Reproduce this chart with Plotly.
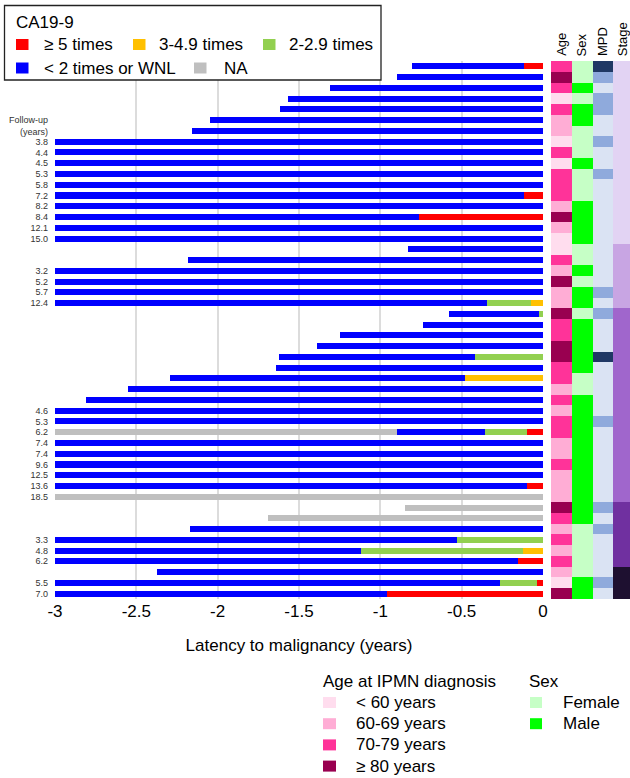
import plotly.graph_objects as go

FONT = "Arial, Liberation Sans, sans-serif"

# ---- CA19-9 course per patient: (latency where level starts, level) ----
# each level lasts until the next entry, the last one until malignancy (0)
course = [
    [(-0.805, "LOW"), (-0.115, "HI5")],
    [(-0.897, "LOW")],
    [(-1.31, "LOW")],
    [(-1.567, "LOW")],
    [(-1.616, "LOW")],
    [(-2.047, "LOW")],
    [(-2.157, "LOW")],
    [(-3.0, "LOW")],
    [(-3.0, "LOW")],
    [(-3.0, "LOW")],
    [(-3.0, "LOW")],
    [(-3.0, "LOW")],
    [(-3.0, "LOW"), (-0.117, "HI5")],
    [(-3.0, "LOW")],
    [(-3.0, "LOW"), (-0.76, "HI5")],
    [(-3.0, "LOW")],
    [(-3.0, "LOW")],
    [(-0.83, "LOW")],
    [(-2.18, "LOW")],
    [(-3.0, "LOW")],
    [(-3.0, "LOW")],
    [(-3.0, "LOW")],
    [(-3.0, "LOW"), (-0.344, "HI2"), (-0.076, "HI3")],
    [(-0.576, "LOW"), (-0.023, "HI2")],
    [(-0.74, "LOW")],
    [(-1.25, "LOW")],
    [(-1.39, "LOW")],
    [(-1.62, "LOW"), (-0.418, "HI2")],
    [(-1.64, "LOW")],
    [(-2.29, "LOW"), (-0.48, "HI3")],
    [(-2.55, "LOW")],
    [(-2.81, "LOW")],
    [(-3.0, "LOW")],
    [(-3.0, "LOW")],
    [(-3.0, "NA"), (-0.90, "LOW"), (-0.356, "HI2"), (-0.098, "HI5")],
    [(-3.0, "LOW")],
    [(-3.0, "LOW")],
    [(-3.0, "LOW")],
    [(-3.0, "LOW")],
    [(-3.0, "LOW"), (-0.096, "HI5")],
    [(-3.0, "NA")],
    [(-0.85, "NA")],
    [(-1.69, "NA")],
    [(-2.17, "LOW")],
    [(-3.0, "LOW"), (-0.53, "HI2")],
    [(-3.0, "LOW"), (-1.12, "HI2"), (-0.123, "HI3")],
    [(-3.0, "LOW"), (-0.152, "HI5")],
    [(-2.37, "LOW")],
    [(-3.0, "LOW"), (-0.264, "HI2"), (-0.039, "HI5")],
    [(-3.0, "LOW"), (-0.96, "HI5")],
]

# follow-up (years) printed next to selected patients
follow_up = {
    7: "3.8", 8: "4.4", 9: "4.5", 10: "5.3", 11: "5.8", 12: "7.2", 13: "8.2",
    14: "8.4", 15: "12.1", 16: "15.0",
    19: "3.2", 20: "5.2", 21: "5.7", 22: "12.4",
    32: "4.6", 33: "5.3", 34: "6.2", 35: "7.4", 36: "7.4", 37: "9.6",
    38: "12.5", 39: "13.6", 40: "18.5",
    44: "3.3", 45: "4.8", 46: "6.2",
    48: "5.5", 49: "7.0",
}

# age group: 0 <60, 1 60-69, 2 70-79, 3 >=80
age_group = [2, 3, 2, 0, 2, 1, 1, 0, 2, 0, 2, 2, 2, 1, 3, 1, 0, 0, 2, 1,
             3, 1, 1, 3, 2, 2, 3, 3, 2, 2, 1, 2, 1, 2, 2, 1, 1, 2, 1, 1,
             1, 3, 2, 1, 2, 1, 2, 1, 0, 3]
# sex: F / M
sex = list("FFMFMMFFFMFFFMMMMFFMFMMFMMMMMFFMMMMMMMMMMMMFFFFFMM")
# main pancreatic duct: 0 normal, 1 dilated, 2 markedly dilated
mpd = [2, 1, 0, 1, 1, 0, 0, 1, 0, 0, 1, 0, 0, 0, 0, 0, 0, 0, 0, 0,
       0, 1, 0, 1, 0, 0, 0, 2, 0, 0, 0, 0, 0, 1, 0, 0, 0, 0, 0, 0,
       0, 1, 0, 1, 0, 0, 0, 0, 1, 0]
# stage group 0..4
stage = [0] * 17 + [1] * 6 + [2] * 18 + [3] * 6 + [4] * 3

ca_levels = ["HI5", "HI3", "HI2", "LOW", "NA"]
ca_labels = ["≥ 5 times", "3-4.9 times", "2-2.9 times", "< 2 times or WNL", "NA"]
ca_colors = {"HI5": "#FF0000", "HI3": "#FFC000", "HI2": "#92D050",
             "LOW": "#0000FF", "NA": "#BFBFBF"}

age_labels = ["< 60 years", "60-69 years", "70-79 years", "≥ 80 years"]
age_colors = ["#FFDDEE", "#FFADD5", "#FF3399", "#990050"]
sex_labels = ["Female", "Male"]
sex_colors = ["#C6FFC6", "#00FF00"]
mpd_colors = ["#DAE3F3", "#8FAADC", "#1F3864"]
stage_colors = ["#E2D3F3", "#C8A5E3", "#A066CC", "#7030A0", "#1E1030"]
track_names = ["Age", "Sex", "MPD", "Stage"]

n = len(course)
rows = list(range(n))

fig = go.Figure()

# ---- stacked latency bars, one trace per CA19-9 level ----
for lvl in ca_levels:
    ys, bases, lens = [], [], []
    for r, segs in enumerate(course):
        for k, (s, name) in enumerate(segs):
            e = segs[k + 1][0] if k + 1 < len(segs) else 0.0
            if name == lvl:
                ys.append(r)
                bases.append(s)
                lens.append(e - s)
    fig.add_trace(go.Bar(
        y=ys, x=lens, base=bases, orientation="h", width=0.56,
        marker=dict(color=ca_colors[lvl], line=dict(width=0)),
        showlegend=False, hoverinfo="skip", xaxis="x", yaxis="y"))

# ---- annotation tracks ----
palette = age_colors + sex_colors + mpd_colors + stage_colors
off_sex = len(age_colors)
off_mpd = off_sex + len(sex_colors)
off_stage = off_mpd + len(mpd_colors)
z = []
for r in rows:
    z.append([age_group[r],
              off_sex + (0 if sex[r] == "F" else 1),
              off_mpd + mpd[r],
              off_stage + stage[r]])
npal = len(palette)
cscale = []
for i, c in enumerate(palette):
    cscale.append([i / npal, c])
    cscale.append([(i + 1) / npal, c])
fig.add_trace(go.Heatmap(
    z=z, x=[0, 1, 2, 3], y=rows, zmin=-0.5, zmax=npal - 0.5,
    colorscale=cscale, showscale=False, hoverinfo="skip",
    xaxis="x2", yaxis="y"))

# ---- geometry helpers (pixel -> paper) ----
W, H = 630, 778
ML, MT, MR, MB = 55, 61, 0, 179
PW, PH = W - ML - MR, H - MT - MB


def px(x):
    return (x - ML) / PW


def py(y):
    return 1 - (y - MT) / PH


shapes = []
ann = []

# track headers
for i, t in enumerate(track_names):
    ann.append(dict(x=i, xref="x2", y=py(58), yref="paper", text=t,
                    textangle=-90, showarrow=False, xanchor="center",
                    yanchor="bottom", font=dict(size=13, color="black")))

# follow-up heading
ann.append(dict(x=px(50), y=py(125.5), xref="paper", yref="paper",
                text="Follow-up<br>(years)", showarrow=False, xanchor="right",
                yanchor="middle", align="right",
                font=dict(size=9, color="#333333")))

# CA19-9 legend box
shapes.append(dict(type="rect", xref="paper", yref="paper",
                   x0=px(4.5), x1=px(381), y0=py(5.5), y1=py(80),
                   line=dict(color="#222222", width=1.3),
                   fillcolor="white", layer="above"))
ann.append(dict(x=px(14), y=py(22.5), xref="paper", yref="paper",
                text="CA19-9", showarrow=False, xanchor="left",
                yanchor="middle", font=dict(size=17, color="black")))
ca_pos = [(16, 42, 44.5), (133, 157, 44.5), (263, 287, 44.5),
          (16, 42, 68), (194, 222, 68)]
for lvl, lab, (sx, tx, cy) in zip(ca_levels, ca_labels, ca_pos):
    shapes.append(dict(type="rect", xref="paper", yref="paper",
                       x0=px(sx), x1=px(sx + 12.5), y0=py(cy - 5.5),
                       y1=py(cy + 5.5), fillcolor=ca_colors[lvl],
                       line=dict(width=0), layer="above"))
    ann.append(dict(x=px(tx), y=py(cy), xref="paper", yref="paper",
                    text=lab, showarrow=False, xanchor="left",
                    yanchor="middle", font=dict(size=17, color="black")))

# age / sex legends
ann.append(dict(x=px(321), y=py(681), xref="paper", yref="paper",
                text="Age at IPMN diagnosis", showarrow=False,
                xanchor="left", yanchor="middle",
                font=dict(size=17, color="black")))
for i, (lab, col) in enumerate(zip(age_labels, age_colors)):
    cy = 702.5 + 21.2 * i
    shapes.append(dict(type="rect", xref="paper", yref="paper",
                       x0=px(323), x1=px(336), y0=py(cy - 5.5),
                       y1=py(cy + 5.5), fillcolor=col, line=dict(width=0)))
    ann.append(dict(x=px(354), y=py(cy), xref="paper", yref="paper",
                    text=lab, showarrow=False, xanchor="left",
                    yanchor="middle", font=dict(size=17, color="black")))
ann.append(dict(x=px(527), y=py(681), xref="paper", yref="paper",
                text="Sex", showarrow=False, xanchor="left",
                yanchor="middle", font=dict(size=17, color="black")))
for i, (lab, col) in enumerate(zip(sex_labels, sex_colors)):
    cy = 702.5 + 21.2 * i
    shapes.append(dict(type="rect", xref="paper", yref="paper",
                       x0=px(530), x1=px(542), y0=py(cy - 5.5),
                       y1=py(cy + 5.5), fillcolor=col, line=dict(width=0)))
    ann.append(dict(x=px(561), y=py(cy), xref="paper", yref="paper",
                    text=lab, showarrow=False, xanchor="left",
                    yanchor="middle", font=dict(size=17, color="black")))

xt = [-3, -2.5, -2, -1.5, -1, -0.5, 0]
fig.update_layout(
    template="none",
    width=W, height=H, autosize=False,
    margin=dict(l=ML, r=MR, t=MT, b=MB, pad=0, autoexpand=False),
    paper_bgcolor="white", plot_bgcolor="white",
    font=dict(family=FONT, color="black"),
    barmode="overlay", bargap=0,
    showlegend=False,
    xaxis=dict(domain=[0, px(543)], range=[-3, 0], anchor="y",
               automargin=False,
               tickvals=xt, ticktext=[f"{v:g}" for v in xt],
               tickfont=dict(size=17, color="black"),
               showgrid=True, gridcolor="#DCDCDC", gridwidth=1.5,
               zeroline=False, showline=False, ticks="",
               title=dict(text="Latency to malignancy (years)",
                          font=dict(size=17, color="black"), standoff=19)),
    xaxis2=dict(domain=[px(551), 1], range=[-0.5, 3.33], anchor="y",
                automargin=False,
                showgrid=False, zeroline=False, showticklabels=False,
                ticks=""),
    yaxis=dict(range=[n - 0.5, -0.5], domain=[0, 1], automargin=False,
               tickvals=list(follow_up.keys()),
               ticktext=list(follow_up.values()),
               tickfont=dict(size=9, color="#333333"),
               showgrid=False, zeroline=False, showline=False, ticks="",
               ticklabelstandoff=6),
    shapes=shapes, annotations=ann,
)

fig.write_html("out.html")
